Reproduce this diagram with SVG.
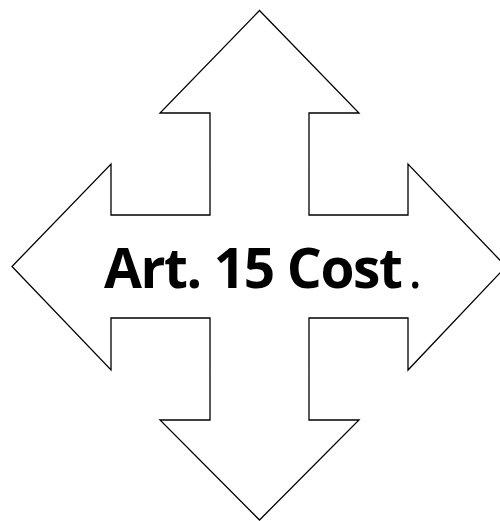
<svg xmlns="http://www.w3.org/2000/svg" width="500" height="521" viewBox="0 0 500 521">
<style>
.shape{fill:#ffffff;stroke:#000000;stroke-width:1.3;stroke-linejoin:miter}
.lbl{font-family:"Open Sans","Liberation Sans",sans-serif;font-size:55px;fill:#000}
</style>
<rect width="500" height="521" fill="#ffffff"/>
<g id="quad-arrow">
<polygon class="shape" points="259.5,10.5 359,113 309,113 309,215 408,215 408,164 506,266.5 408,370 408,318 309,318 309,420 359,420 259.5,520 160,420 210,420 210,318 111,318 111,370 12,266.5 111,164 111,215 210,215 210,113 160,113"/>
</g>
<g id="label">
<text class="lbl" x="104" y="288" font-weight="bold" letter-spacing="-1.4">Art. 15 Cost</text>
<text class="lbl" x="408" y="288" font-weight="normal">.</text>
</g>
</svg>
